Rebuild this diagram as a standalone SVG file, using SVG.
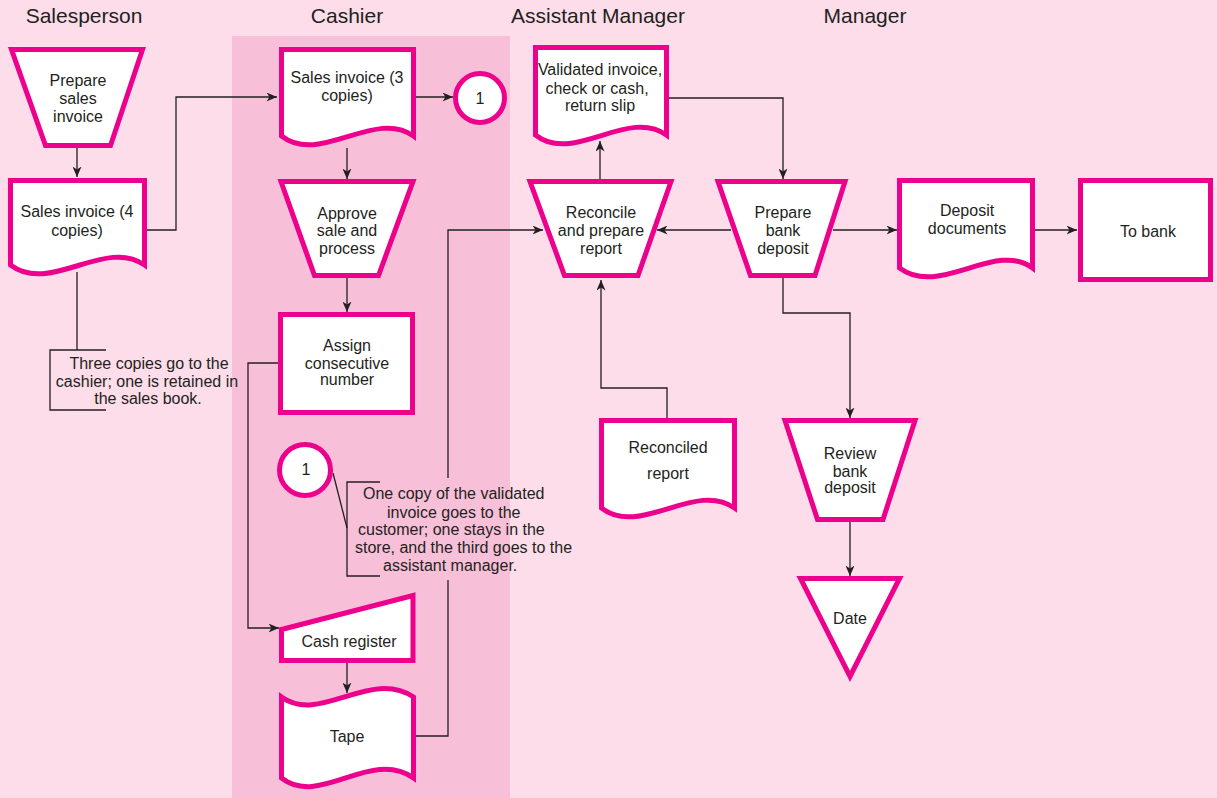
<svg xmlns="http://www.w3.org/2000/svg" width="1217" height="798" viewBox="0 0 1217 798">
  <style>
    .shape { fill: #ffffff; stroke: #EC008C; stroke-width: 5; stroke-linejoin: miter; }
    .lbl { font-family: "Liberation Sans", Arial, sans-serif; font-size: 16px; fill: #231F20; text-anchor: middle; }
    .note { font-family: "Liberation Sans", Arial, sans-serif; font-size: 16px; fill: #231F20; }
    .lane { font-family: "Liberation Sans", Arial, sans-serif; font-size: 21px; fill: #231F20; text-anchor: middle; }
    .wire { fill: none; stroke: #231F20; stroke-width: 1.3; }
    .arrow { fill: none; stroke: #231F20; stroke-width: 1.3; marker-end: url(#head); }
  </style>
  <defs>
    <marker id="head" markerWidth="11" markerHeight="9" refX="10.5" refY="4.5" orient="auto" markerUnits="userSpaceOnUse">
      <path d="M0,0 L10.5,4.5 L0,9 L3,4.5 Z" fill="#231F20"/>
    </marker>
  </defs>

  <!-- background and cashier lane -->
  <rect x="0" y="0" width="1217" height="798" fill="#FCDDE9"/>
  <rect x="232" y="36" width="278" height="762" fill="#F7C0D8"/>

  <!-- lane headings -->
  <g id="lanes">
    <text class="lane" x="84" y="23">Salesperson</text>
    <text class="lane" x="347" y="23">Cashier</text>
    <text class="lane" x="598" y="23">Assistant Manager</text>
    <text class="lane" x="865" y="23">Manager</text>
  </g>

  <!-- connectors -->
  <g id="connectors">
    <path class="arrow" d="M77,148 V177"/>
    <path class="arrow" d="M147,230 H176 V97 H277"/>
    <path class="wire" d="M77,272 V350"/>
    <path class="wire" d="M106,350 H50 V410 H106"/>
    <path class="arrow" d="M416,97 H453"/>
    <path class="arrow" d="M347,148 V179"/>
    <path class="arrow" d="M347,278 V312"/>
    <path class="arrow" d="M278,363 H248 V628 H279"/>
    <path class="arrow" d="M347,663 V693"/>
    <!-- tape to reconcile, interrupted where the note sits -->
    <path class="wire" d="M416,736 H448 V580"/>
    <path class="arrow" d="M448,478 V230 H543"/>
    <path class="wire" d="M333,473 L347,528"/>
    <path class="wire" d="M380,482 H347 V576 H380"/>
    <path class="arrow" d="M600,179 V141"/>
    <path class="arrow" d="M669,98 H783 V179"/>
    <path class="arrow" d="M731,230 H657"/>
    <path class="arrow" d="M833,230 H897"/>
    <path class="arrow" d="M1035,230 H1077"/>
    <path class="arrow" d="M667,418 V388 H601 V280"/>
    <path class="arrow" d="M783,278 V313 H850 V418"/>
    <path class="arrow" d="M850,522 V576"/>
  </g>

  <!-- Salesperson -->
  <g id="prepare-sales-invoice">
    <polygon class="shape" points="11.5,49.5 142.5,49.5 110.5,145.5 45.5,145.5"/>
    <text class="lbl" x="78" y="86">Prepare</text>
    <text class="lbl" x="78" y="104">sales</text>
    <text class="lbl" x="78" y="122">invoice</text>
  </g>
  <g id="sales-invoice-4">
    <path class="shape" d="M10.5,180.5 H144.5 V265 C105,237 50,295 10.5,265 Z"/>
    <text class="lbl" x="77" y="217">Sales invoice (4</text>
    <text class="lbl" x="77" y="235.5">copies)</text>
  </g>
  <g id="note-three-copies">
    <text class="lbl" x="149" y="369">Three copies go to the</text>
    <text class="lbl" x="147" y="386.5">cashier; one is retained in</text>
    <text class="lbl" x="148" y="403.5">the sales book.</text>
  </g>

  <!-- Cashier -->
  <g id="sales-invoice-3">
    <path class="shape" d="M281.5,49.5 H413.5 V136 C375,108 320,166 281.5,136 Z"/>
    <text class="lbl" x="347" y="83">Sales invoice (3</text>
    <text class="lbl" x="347" y="101">copies)</text>
  </g>
  <g id="connector-1-out">
    <circle class="shape" cx="480" cy="98" r="24.5"/>
    <text class="lbl" x="480" y="104">1</text>
  </g>
  <g id="approve-sale">
    <polygon class="shape" points="281,181.5 413,181.5 378.5,275.5 314.5,275.5"/>
    <text class="lbl" x="347" y="218.5">Approve</text>
    <text class="lbl" x="347" y="236">sale and</text>
    <text class="lbl" x="347" y="254">process</text>
  </g>
  <g id="assign-number">
    <rect class="shape" x="280.5" y="314.5" width="132" height="98"/>
    <text class="lbl" x="347" y="351">Assign</text>
    <text class="lbl" x="347" y="369">consecutive</text>
    <text class="lbl" x="347" y="385">number</text>
  </g>
  <g id="connector-1-in">
    <circle class="shape" cx="305" cy="470" r="25.5"/>
    <text class="lbl" x="306" y="475">1</text>
  </g>
  <g id="note-validated-copies">
    <text class="note" x="363" y="499">One copy of the validated</text>
    <text class="note" x="387" y="517.5">invoice goes to the</text>
    <text class="note" x="358" y="535">customer; one stays in the</text>
    <text class="note" x="355" y="553">store, and the third goes to the</text>
    <text class="note" x="383" y="571">assistant manager.</text>
  </g>
  <g id="cash-register">
    <polygon class="shape" points="281.5,629.5 413,595.5 413,660.5 281.5,660.5"/>
    <text class="lbl" x="349" y="647">Cash register</text>
  </g>
  <g id="tape">
    <path class="shape" d="M281.5,697 C320,725 370,668 413.5,697 V778 C370,748 320,808 281.5,778 Z"/>
    <text class="lbl" x="347" y="742">Tape</text>
  </g>

  <!-- Assistant Manager -->
  <g id="validated-invoice">
    <path class="shape" d="M535.5,47.5 H666.5 V135 C628,107 573,165 535.5,135 Z"/>
    <text class="lbl" x="600" y="75">Validated invoice,</text>
    <text class="lbl" x="597" y="93.5">check or cash,</text>
    <text class="lbl" x="600" y="111">return slip</text>
  </g>
  <g id="reconcile">
    <polygon class="shape" points="530,181.5 671,181.5 638,275.5 564.5,275.5"/>
    <text class="lbl" x="601" y="218">Reconcile</text>
    <text class="lbl" x="601" y="236">and prepare</text>
    <text class="lbl" x="601" y="254">report</text>
  </g>
  <g id="reconciled-report">
    <path class="shape" d="M601.5,420.5 H734.5 V508 C695,480 640,538 601.5,508 Z"/>
    <text class="lbl" x="668" y="453">Reconciled</text>
    <text class="lbl" x="668" y="479">report</text>
  </g>

  <!-- Manager -->
  <g id="prepare-bank-deposit">
    <polygon class="shape" points="718,181.5 845,181.5 815,275.5 750.5,275.5"/>
    <text class="lbl" x="783" y="218">Prepare</text>
    <text class="lbl" x="783" y="236">bank</text>
    <text class="lbl" x="783" y="254">deposit</text>
  </g>
  <g id="deposit-documents">
    <path class="shape" d="M899.5,180.5 H1032.5 V268 C995,240 940,298 899.5,268 Z"/>
    <text class="lbl" x="967" y="216">Deposit</text>
    <text class="lbl" x="967" y="234">documents</text>
  </g>
  <g id="to-bank">
    <rect class="shape" x="1080.5" y="180.5" width="130" height="99"/>
    <text class="lbl" x="1148" y="237">To bank</text>
  </g>
  <g id="review-bank-deposit">
    <polygon class="shape" points="785,420.5 915,420.5 883,519.5 817.5,519.5"/>
    <text class="lbl" x="850" y="458.5">Review</text>
    <text class="lbl" x="850" y="476.5">bank</text>
    <text class="lbl" x="850" y="493">deposit</text>
  </g>
  <g id="date">
    <polygon class="shape" points="800.5,578.5 899.5,578.5 850,676.5"/>
    <text class="lbl" x="850" y="623.5">Date</text>
  </g>
</svg>
